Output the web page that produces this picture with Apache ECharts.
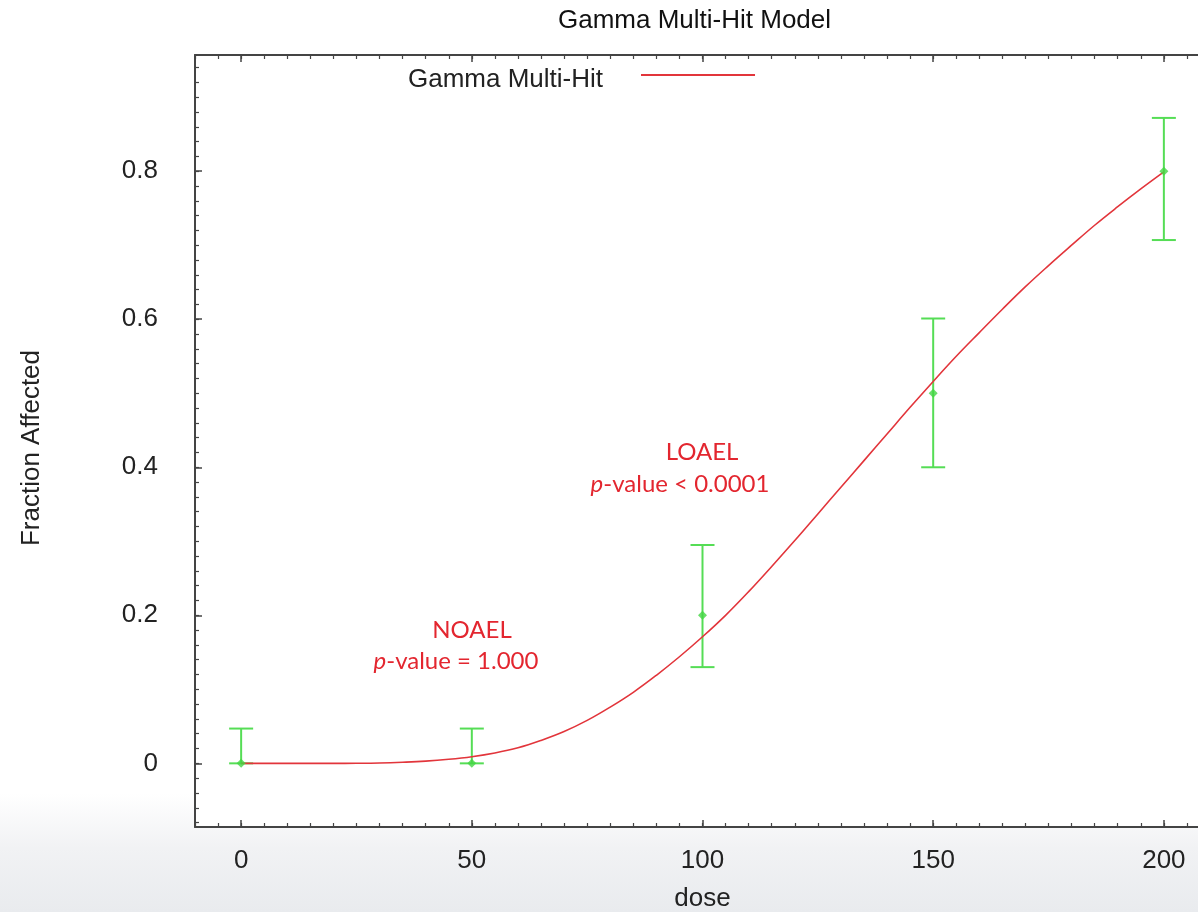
<!DOCTYPE html>
<html>
<head>
<meta charset="utf-8">
<script src="https://cdn.jsdelivr.net/npm/echarts@6/dist/echarts.min.js"></script>
<style>
html,body{margin:0;padding:0;overflow:hidden;}
body{width:1198px;height:912px;background:linear-gradient(to bottom,#ffffff 0%,#ffffff 87%,#f1f2f4 93%,#e9ebee 100%);}
#chart{width:1210px;height:912px;}
</style>
</head>
<body>
<div id="chart"></div>
<script>
// ---- data ----
const doses = [0, 50, 100, 150, 200];
const observed = [0, 0, 0.2, 0.5, 0.8];
const lowerCI = [0, 0, 0.13, 0.40, 0.707];
const upperCI = [0.047, 0.047, 0.295, 0.601, 0.872];

const curveDose = [0,5,10,15,20,25,30,35,40,45,50,55,60,65,70,75,80,85,90,95,100,
  105,110,115,120,125,130,135,140,145,150,155,160,165,170,175,180,185,190,195,200];
const curveFrac = [0,0,0,0,0,0.0001,0.0005,0.0015,0.003,0.0055,0.009,0.014,0.021,0.031,0.043,0.058,0.076,0.096,0.119,0.144,0.171,
  0.200,0.232,0.266,0.301,0.337,0.373,0.409,0.445,0.481,0.516,0.550,0.582,0.6135,0.644,0.6725,0.700,0.727,0.752,0.776,0.799];

const xTickLabels = [0, 50, 100, 150, 200];
const yTickLabels = [0, 0.2, 0.4, 0.6, 0.8];
const seriesName = 'Gamma Multi-Hit';

// ---- axis ranges ----
const X_MIN = -10, X_MAX = 210;
const Y_MIN = -0.086, Y_MAX = 0.957;

const xMinor = [];
for (let i = 0; i <= 44; i++) xMinor.push(X_MIN + i * 5);
const yMinor = [];
for (let i = -4; i <= 47; i++) yMinor.push(+(i * 0.02).toFixed(2));

const FONT = 'Liberation Sans';
const AX = '#444';
const gridRect = {left: 195, top: 55, right: 0, bottom: 85, outerBoundsMode: 'none', containLabel: false};

const chart = echarts.init(document.getElementById('chart'), null, {renderer: 'canvas'});

const curveData = curveDose.map((d, i) => [d, curveFrac[i]]);
const obsData = doses.map((d, i) => [d, observed[i]]);
const ciData = doses.map((d, i) => [d, lowerCI[i], upperCI[i]]);

function majorX(position) {
  return {
    type: 'value', gridIndex: 0, position: position, min: X_MIN, max: X_MAX,
    axisLine: {show: true, onZero: false, lineStyle: {color: AX, width: 2}},
    axisTick: {show: true, inside: true, length: 7, customValues: xTickLabels, lineStyle: {color: AX, width: 1.5}},
    axisLabel: position === 'bottom'
      ? {show: true, customValues: xTickLabels, margin: 21, fontSize: 26, fontFamily: FONT, color: '#222'}
      : {show: false},
    splitLine: {show: false},
    name: position === 'bottom' ? 'dose' : '',
    nameLocation: 'middle', nameGap: 59,
    nameTextStyle: {fontSize: 26, fontFamily: FONT, color: '#222'}
  };
}
function minorX(position) {
  return {
    type: 'value', gridIndex: 1, position: position, min: X_MIN, max: X_MAX,
    axisLine: {show: false, onZero: false},
    axisTick: {show: true, inside: true, length: 4, customValues: xMinor, lineStyle: {color: AX, width: 1.2}},
    axisLabel: {show: false},
    splitLine: {show: false}
  };
}

const option = {
  backgroundColor: 'transparent',
  animation: false,
  title: {
    text: 'Gamma Multi-Hit Model',
    left: 558, top: 8, padding: 0,
    textStyle: {fontSize: 26, fontWeight: 'normal', fontFamily: FONT, color: '#111'}
  },
  legend: {
    data: [seriesName],
    left: 403, top: 62,
    align: 'right',
    icon: 'path://M0,0H114V2H0Z M0,12H0.01V11.99H0Z',
    itemWidth: 114, itemHeight: 12,
    itemStyle: {borderWidth: 0},
    textStyle: {fontSize: 26, fontFamily: FONT, color: '#222', padding: [0, 33, 0, 0]}
  },
  grid: [
    Object.assign({show: true, backgroundColor: '#ffffff', borderWidth: 0}, gridRect),
    Object.assign({show: false}, gridRect)
  ],
  xAxis: [majorX('bottom'), majorX('top'), minorX('bottom'), minorX('top')],
  yAxis: [
    {
      type: 'value', gridIndex: 0, position: 'left', min: Y_MIN, max: Y_MAX,
      axisLine: {show: true, onZero: false, lineStyle: {color: AX, width: 2}},
      axisTick: {show: true, inside: true, length: 7, customValues: yTickLabels, lineStyle: {color: AX, width: 1.5}},
      axisLabel: {show: true, customValues: yTickLabels, margin: 37, fontSize: 26, fontFamily: FONT, color: '#222'},
      splitLine: {show: false},
      name: 'Fraction Affected', nameLocation: 'middle', nameGap: 150,
      nameTextStyle: {fontSize: 26, fontFamily: FONT, color: '#222', padding: [0, 14, 0, 0]}
    },
    {
      type: 'value', gridIndex: 1, position: 'left', min: Y_MIN, max: Y_MAX,
      axisLine: {show: false, onZero: false},
      axisTick: {show: true, inside: true, length: 4, customValues: yMinor, lineStyle: {color: AX, width: 1.2}},
      axisLabel: {show: false},
      splitLine: {show: false}
    }
  ],
  graphic: [
    {type: 'text', x: 702, y: 452, style: {text: 'LOAEL', align: 'center', verticalAlign: 'middle', font: '24px Lato', fill: '#e3262f'}, z: 100},
    {type: 'text', x: 680, y: 484, style: {
      text: '{i|p}-value < 0.0001', align: 'center', verticalAlign: 'middle', font: '24px Lato', fill: '#e3262f',
      rich: {i: {fontStyle: 'italic', fontFamily: 'Lato', fontSize: 24, fill: '#e3262f', color: '#e3262f'}}}, z: 100},
    {type: 'text', x: 472, y: 630, style: {text: 'NOAEL', align: 'center', verticalAlign: 'middle', font: '24px Lato', fill: '#e3262f'}, z: 100},
    {type: 'text', x: 456, y: 661, style: {
      text: '{i|p}-value = 1.000', align: 'center', verticalAlign: 'middle', font: '24px Lato', fill: '#e3262f',
      rich: {i: {fontStyle: 'italic', fontFamily: 'Lato', fontSize: 24, fill: '#e3262f', color: '#e3262f'}}}, z: 100}
  ],
  series: [
    {
      name: seriesName, type: 'line', xAxisIndex: 0, yAxisIndex: 0,
      data: curveData, smooth: 0.4, showSymbol: false, symbol: 'none',
      lineStyle: {color: '#e2353b', width: 1.6}, itemStyle: {color: '#e2353b'},
      z: 3
    },
    {
      name: 'CI', type: 'custom', xAxisIndex: 0, yAxisIndex: 0,
      data: ciData,
      renderItem: function (params, api) {
        const x = api.value(0);
        const lo = api.coord([x, api.value(1)]);
        const hi = api.coord([x, api.value(2)]);
        const hw = 12;
        const st = {stroke: '#55dd55', lineWidth: 2};
        return {
          type: 'group',
          children: [
            {type: 'line', shape: {x1: lo[0], y1: lo[1], x2: hi[0], y2: hi[1]}, style: st},
            {type: 'line', shape: {x1: lo[0] - hw, y1: lo[1], x2: lo[0] + hw, y2: lo[1]}, style: st},
            {type: 'line', shape: {x1: hi[0] - hw, y1: hi[1], x2: hi[0] + hw, y2: hi[1]}, style: st}
          ]
        };
      },
      z: 2
    },
    {
      name: 'Observed', type: 'scatter', xAxisIndex: 0, yAxisIndex: 0,
      data: obsData, symbol: 'diamond', symbolSize: 9,
      itemStyle: {color: '#44d644'}, z: 4
    }
  ]
};
chart.setOption(option);
</script>
</body>
</html>
